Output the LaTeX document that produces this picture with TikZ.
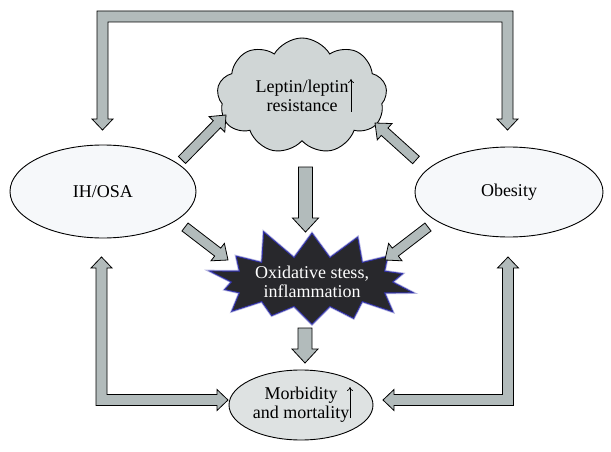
\documentclass[tikz,border=0pt]{standalone}
\usepackage{fontspec}
\setmainfont{Liberation Serif}
\usetikzlibrary{calc,arrows.meta,shapes.geometric,shapes.symbols}

\definecolor{arrowgray}{HTML}{B2BBBB}
\definecolor{cloudfill}{HTML}{D0D6D6}
\definecolor{ovalfill}{HTML}{F6F8FA}
\definecolor{mmfill}{HTML}{DEE2E2}
\definecolor{stardark}{HTML}{28282C}
\definecolor{starblue}{HTML}{3232AA}

% block arrow: tail, tip, half shaft, half head, head length
\newcommand{\fatarrow}[5]{%
  \coordinate (hb) at ($(#2)!#5!(#1)$);
  \filldraw[fat] ($(#1)!#3!90:(#2)$) -- ($(hb)!#3!90:(#2)$) -- ($(hb)!#4!90:(#2)$) -- (#2)
    -- ($(hb)!#4!-90:(#2)$) -- ($(hb)!#3!-90:(#2)$) -- ($(#1)!#3!-90:(#2)$) -- cycle;
}

\begin{document}
\begin{tikzpicture}[x=1pt,y=-1pt,
    fat/.style={draw=black,fill=arrowgray,line width=0.8pt},
    blob/.style={draw,line width=0.9pt,inner sep=0pt,align=center,font=\fontsize{18}{19}\selectfont},
    uparrow/.style={-{To[length=4pt,width=6pt]},line width=0.7pt}
    ]

    \useasboundingbox (0,0) rectangle (611,452);

    \node (ih) [blob,ellipse,fill=ovalfill,minimum width=186pt,minimum height=93pt] at (103,191.5) {IH/OSA};
    \node (ob) [blob,ellipse,fill=ovalfill,minimum width=188pt,minimum height=90pt] at (509,192) {Obesity};
    \node (mm) [blob,ellipse,fill=mmfill,minimum width=144pt,minimum height=70pt] at (301,405) {Morbidity\\and mortality};

    \node (lep) [blob,cloud,fill=cloudfill,cloud puffs=9,cloud puff arc=120,aspect=1.5,
                 minimum width=170pt,minimum height=116pt] at (302,96) {Leptin/leptin\\resistance};

    \node (ox) [blob,starburst,draw=starblue,fill=stardark,text=white,
                starburst points=14,starburst point height=32pt,random starburst=11,
                minimum width=218pt,minimum height=114pt,
                preaction={draw=starblue!35,line width=2.5pt}] at (312,282) {Oxidative stess,\\inflammation};

    \draw[uparrow] ($(lep.center)+(49,16)$) -- ++(0,-33);
    \draw[uparrow] ($(mm.center)+(49,13)$) -- ++(0,-31);

    % ends of the straight arrows
    \coordinate (ih1) at (182,160);
    \coordinate (lep1) at (226,115);
    \coordinate (ob1) at (416,160);
    \coordinate (lep2) at (375,123);
    \coordinate (lep3) at (305.5,167);
    \coordinate (ox1) at (305.5,232);
    \coordinate (ih2) at (185,227);
    \coordinate (ox2) at (228,260);
    \coordinate (ob2) at (428,227);
    \coordinate (ox3) at (385,260);
    \coordinate (ox4) at (305,328);
    \coordinate (mm1) at (305,363);

    \foreach \a/\b in {ih1/lep1,ob1/lep2,ih2/ox2,ob2/ox3}
      \fatarrow{\a}{\b}{5pt}{11pt}{13pt};
    \foreach \a/\b in {lep3/ox1,ox4/mm1}
      \fatarrow{\a}{\b}{7pt}{13pt}{14pt};

    % ends of the bent arrows
    \coordinate (ih3) at (102.5,130);
    \coordinate (ob3) at (507.5,130);
    \coordinate (ih4) at (101.5,257);
    \coordinate (ob4) at (508,257);
    \coordinate (mm2) at (228,400);
    \coordinate (mm3) at (383,400);

    \filldraw[fat] (ih3) -- ++(10.5,-11) -- ++(-5,0) |- ($(ob3)+(-5.5,-108)$) -- ++(0,97) -- ++(-5,0)
      -- (ob3) -- ++(10.5,-11) -- ++(-5,0) |- ($(ih3)+(-5.5,-119)$) -- ++(0,108) -- ++(-5,0) -- cycle;

    \filldraw[fat] (ih4) -- ++(10.5,11) -- ++(-5,0) |- ($(mm2)+(-11,-5.5)$) -- ++(0,-5)
      -- (mm2) -- ++(-11,10.5) -- ++(0,-5) -| ($(ih4)+(-5.5,11)$) -- ++(-5,0) -- cycle;

    \filldraw[fat] (ob4) -- ++(-10.5,11) -- ++(5,0) |- ($(mm3)+(11,-5.5)$) -- ++(0,-5)
      -- (mm3) -- ++(11,10.5) -- ++(0,-5) -| ($(ob4)+(5.5,11)$) -- ++(5,0) -- cycle;

  \end{tikzpicture}
\end{document}
